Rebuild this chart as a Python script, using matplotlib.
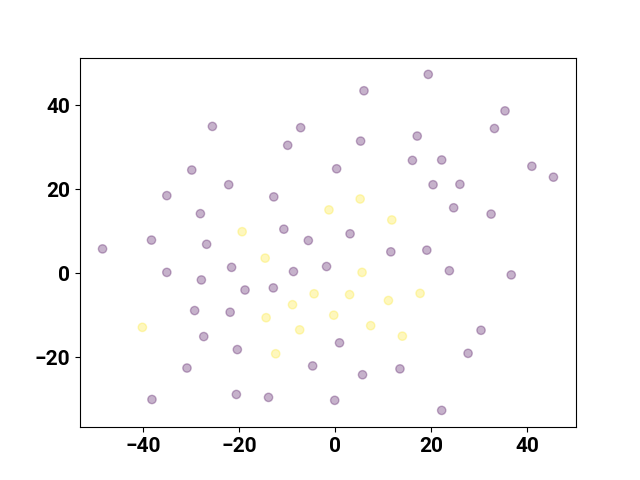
import numpy as np
import matplotlib
matplotlib.use('Agg')
import matplotlib.pyplot as plt

plt.rcParams['font.family'] = ['Roboto', 'DejaVu Sans']
plt.rcParams['font.weight'] = 'bold'
plt.rcParams['font.size'] = 15

# class 0 (purple)
x0 = [-48.5, -38.3, -38.2, -35.1, -35.1, -29.9, -28.1, -26.8, -27.9, -29.3,
      -27.4, -25.6, -22.2, -21.6, -21.9, -20.4, -20.6, -18.8, -30.9, -12.8,
      -12.9, -13.9, -9.9, -10.7, -8.7, -7.2, -5.6, -4.7, -1.8, 0.9,
      0.3, -0.1, 3.1, 5.3, 6.0, 5.7, 11.6, 13.5, 16.1, 17.1,
      19.1, 19.4, 20.4, 22.2, 22.2, 23.8, 24.7, 26.0, 27.7, 30.4,
      32.5, 33.2, 35.4, 36.7, 41.0, 45.5]
y0 = [5.8, 7.9, -30.1, 18.5, 0.2, 24.6, 14.2, 6.9, -1.6, -8.9,
      -15.1, 35.0, 21.1, 1.4, -9.3, -18.2, -28.9, -4.0, -22.6, 18.2,
      -3.5, -29.6, 30.5, 10.5, 0.4, 34.7, 7.8, -22.1, 1.6, -16.6,
      24.9, -30.3, 9.4, 31.5, 43.5, -24.2, 5.1, -22.8, 26.9, 32.7,
      5.5, 47.4, 21.1, 27.0, -32.7, 0.6, 15.6, 21.2, -19.1, -13.6,
      14.1, 34.5, 38.7, -0.4, 25.5, 22.9]

# class 1 (yellow)
x1 = [-40.2, -19.4, -14.6, -14.4, -12.4, -8.9, -7.4, -4.4, -1.3, -0.3,
      3.0, 5.2, 5.6, 7.4, 11.1, 11.8, 14.0, 17.7]
y1 = [-12.9, 9.9, 3.6, -10.6, -19.2, -7.5, -13.5, -4.9, 15.1, -10.0,
      -5.1, 17.7, 0.2, -12.5, -6.5, 12.7, -15.0, -4.8]

x = np.array(x0 + x1)
y = np.array(y0 + y1)
labels = np.array([0] * len(x0) + [1] * len(x1))

fig, ax = plt.subplots(figsize=(6.4, 4.8), dpi=100)
ax.scatter(x, y, c=labels, cmap='viridis', alpha=0.3)

fig.savefig('out.png')
